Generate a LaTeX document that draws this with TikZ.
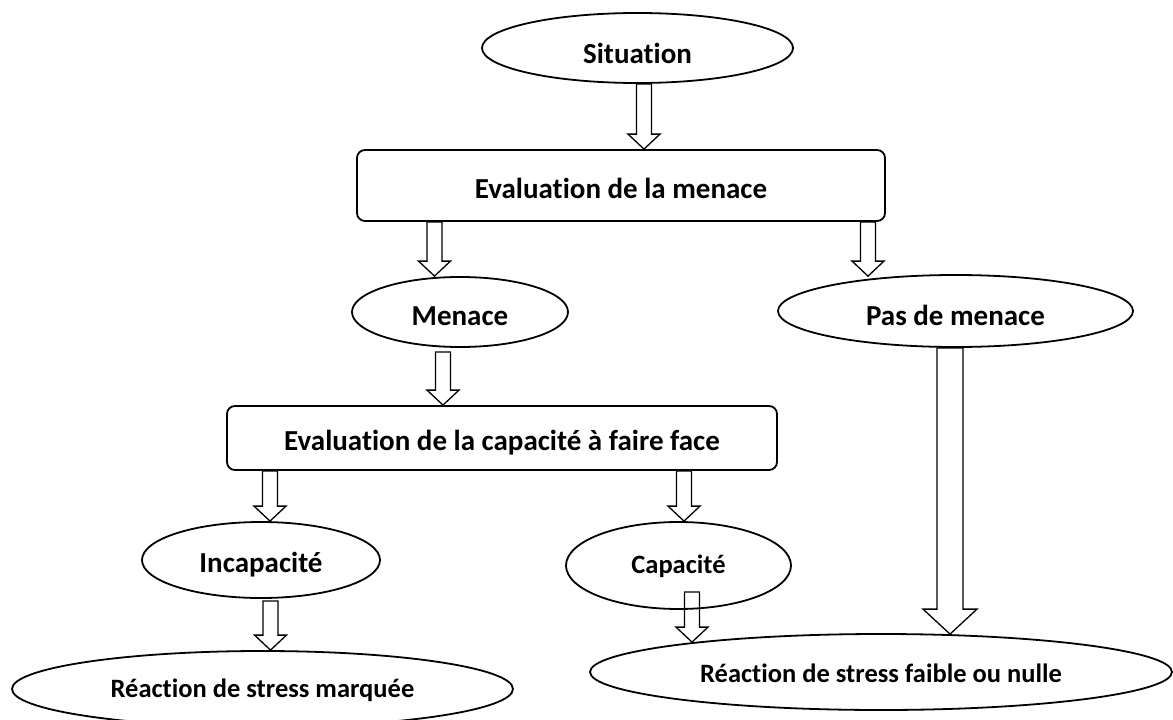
\documentclass[tikz,border=0pt]{standalone}
\usepackage{fontspec}
\setmainfont{Carlito}[Ligatures=NoCommon]
\usetikzlibrary{shapes.geometric,calc}
\begin{document}
\begin{tikzpicture}[x=1pt,y=-1pt,
  shapeline/.style={draw=black,line width=1.8pt},
  bigtext/.style={font=\fontsize{29}{34}\selectfont\bfseries},
  smalltext/.style={font=\fontsize{26.5}{31}\selectfont\bfseries},
  oval/.style={shapeline,ellipse,inner sep=0pt,bigtext},
  panel/.style={shapeline,rectangle,rounded corners=8pt,inner sep=0pt,bigtext},
  dims/.style 2 args={minimum width=#1pt,minimum height=#2pt},
  rise/.style={text height=#1pt,text depth=0pt},
  % hollow block arrow: shaft starts at the level of the source, tip at the target
  fat/.style n args={3}{draw=black,line width=1.3pt,line join=miter,
    to path={let \p1=(\tikztostart),\p2=(\tikztotarget) in
      (\x2-#1/2,\y1) -- (\x2-#1/2,\y2+#3) -- (\x2-#2/2,\y2+#3) -- (\x2,\y2)
      -- (\x2+#2/2,\y2+#3) -- (\x2+#1/2,\y2+#3) -- (\x2+#1/2,\y1) -- cycle}},
  smallarrow/.style={fat={15pt}{32pt}{15pt}},
  bigarrow/.style={fat={26pt}{54pt}{25pt}},
]
\useasboundingbox (0,0) rectangle (1173,720);
\clip (0,0) rectangle (1173,720);
\fill[white] (0,0) rectangle (1173,720);

% nodes
\node[oval,dims={311}{70},rise=30] (sit) at (637.5,48) {Situation};
\node[panel,dims={528}{71},rise=26] (eval1) at (621,185.5) {Evaluation de la menace};
\node[oval,dims={216}{70},rise=26] (men) at (460,312) {Menace};
\node[oval,dims={355}{72},rise=28] (pas) at (955.5,311) {Pas de menace};
\node[panel,dims={550}{64},rise=24] (eval2) at (502,438) {Evaluation de la capacité à faire face};
\node[oval,dims={238}{76},rise=24] (inc) at (261,560) {Incapacité};
\node[oval,smalltext,dims={225}{87},rise=15] (cap) at (678.5,565.5) {Capacité};
\node[oval,smalltext,dims={501}{76},rise=16] (marq) at (262.5,689) {Réaction de stress marquée};
\node[oval,smalltext,dims={582}{76},rise=20] (faib) at (881,672) {Réaction de stress faible ou nulle};

% connectors
\draw[smallarrow] (sit.south) to ([xshift=6.5pt]eval1.north -| sit.south);
\draw[smallarrow] (eval1.south) to ([xshift=-25.5pt]men.north);
\draw[smallarrow] (eval1.south) to ([xshift=-87.5pt,yshift=-2pt]pas.north);
\draw[smallarrow] ([yshift=-4pt]men.south) to ([xshift=-59pt]eval2.north);
\draw[smallarrow] (eval2.south) to ([xshift=9pt]inc.north);
\draw[smallarrow] (eval2.south) to ([xshift=5.5pt]cap.north);
\draw[smallarrow] ([yshift=-2pt]inc.south) to ([xshift=8pt]marq.north);
\draw[smallarrow] ([yshift=18pt]cap.south) to ([xshift=-189pt,yshift=-9pt]faib.north);
\draw[bigarrow] (pas.south) to ([xshift=69pt,yshift=-1pt]faib.north);
\end{tikzpicture}
\end{document}
